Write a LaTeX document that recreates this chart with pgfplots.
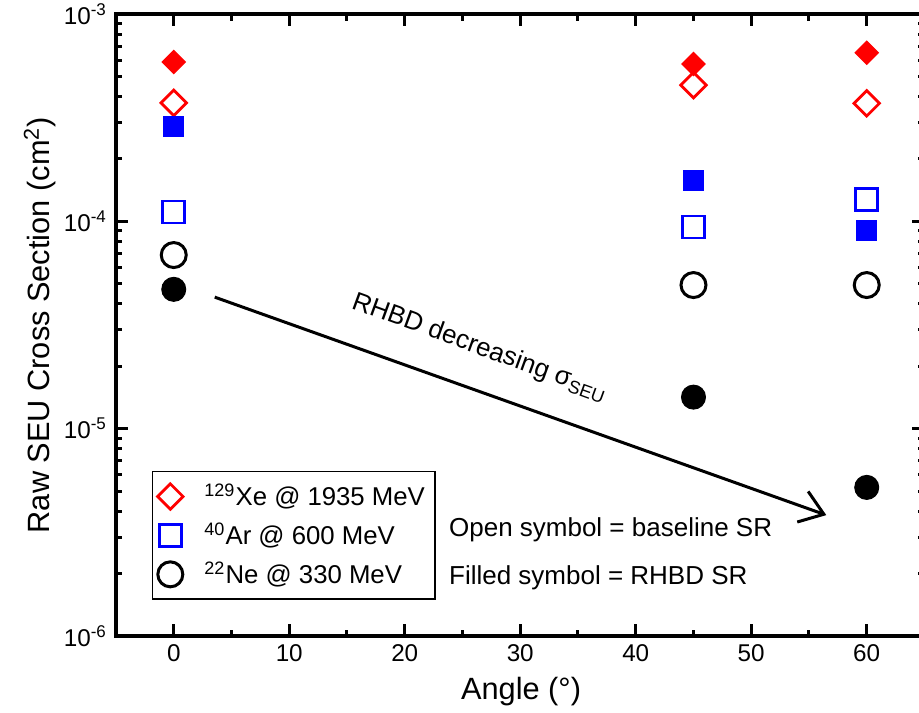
\documentclass[border=0pt]{standalone}
\usepackage{fontspec}
\setmainfont{Liberation Sans}
\usepackage{pgfplots}
\usepackage{pgfplotstable}
\pgfplotsset{compat=1.18}
\usetikzlibrary{arrows.meta}

% raw SEU cross sections (cm^2)
\pgfplotstableread{
angle xeo     xef     aro     arf     neo     nef
0     3.73e-4 5.87e-4 1.11e-4 2.86e-4 6.88e-5 4.70e-5
45    4.54e-4 5.74e-4 9.40e-5 1.58e-4 4.93e-5 1.42e-5
60    3.71e-4 6.51e-4 1.28e-4 9.08e-5 4.93e-5 5.21e-6
}\seu

\begin{document}
\begin{tikzpicture}
\begin{axis}[
  name=ax,
  scale only axis, width=323.4pt, height=248.8pt,
  xmin=-5, xmax=65,
  ymode=log, ymin=1e-6, ymax=1e-3,
  xtick={0,10,...,60}, minor x tick num=1,
  ytick={1e-6,1e-5,1e-4,1e-3},
  yticklabels={10\textsuperscript{-6},10\textsuperscript{-5},10\textsuperscript{-4},10\textsuperscript{-3}},
  minor ytick={2e-6,3e-6,4e-6,5e-6,6e-6,7e-6,8e-6,9e-6,
               2e-5,3e-5,4e-5,5e-5,6e-5,7e-5,8e-5,9e-5,
               2e-4,3e-4,4e-4,5e-4,6e-4,7e-4,8e-4,9e-4},
  /pgf/number format/assume math mode=true,
  tick align=inside, major tick length=4.8pt, minor tick length=2.6pt,
  every tick/.style={black, line width=1.2pt},
  axis line style={line width=1.5pt},
  ticklabel style={font=\fontsize{9.7}{11}\selectfont},
  xlabel={Angle (°)},
  ylabel={Raw SEU Cross Section (cm\textsuperscript{2})},
  label style={font=\fontsize{12.3}{14}\selectfont},
  xlabel style={at={(axis description cs:0.501,-0.09)}, anchor=center},
  ylabel style={at={(axis description cs:-0.094,0.5)}, anchor=center},
  legend style={at={(0.0445,0.265)}, anchor=north west, draw=black, line width=0.5pt,
    font=\fontsize{10.3}{12}\selectfont, cells={anchor=west}, row sep=1.4pt,
    inner xsep=2pt, inner ysep=2.8pt,
    /tikz/every odd column/.append style={column sep=6.5pt}},
  legend image code/.code={\draw[mark repeat=2,mark phase=2,#1] plot coordinates {(0cm,0cm)(0.28cm,0cm)(0.56cm,0cm)};},
  clip=false,
]
\addplot[only marks, red, mark=square, mark size=3.6pt, mark options={rotate=45, line width=1.1pt}]
  table[x=angle, y=xeo] {\seu};
\addlegendentry{\textsuperscript{129}Xe @ 1935 MeV}
\addplot[only marks, blue, mark=square, mark size=4.4pt, mark options={line width=1.1pt}]
  table[x=angle, y=aro] {\seu};
\addlegendentry{\textsuperscript{40}Ar @ 600 MeV}
\addplot[only marks, black, mark=o, mark size=5pt, mark options={line width=1.2pt}]
  table[x=angle, y=neo] {\seu};
\addlegendentry{\textsuperscript{22}Ne @ 330 MeV}
\addplot[only marks, red, forget plot, mark=square*, mark size=3.3pt, mark options={rotate=45, line width=0.4pt, fill=red}]
  table[x=angle, y=xef] {\seu};
\addplot[only marks, blue, forget plot, mark=square*, mark size=4.0pt, mark options={line width=0.4pt, fill=blue}]
  table[x=angle, y=arf] {\seu};
\addplot[only marks, black, forget plot, mark=*, mark size=4.8pt, mark options={line width=0.4pt, fill=black}]
  table[x=angle, y=nef] {\seu};

\draw[line width=1.2pt, -{Straight Barb[length=9pt, width=13pt, line width=1.2pt]}]
  (axis cs:3.55,4.31e-5) -- (axis cs:56.5,3.83e-6);
\node[rotate=-20, font=\fontsize{10.4}{12}\selectfont] at (axis cs:26.5,2.45e-5)
  {RHBD decreasing σ\textsubscript{SEU}};
\node[anchor=west, inner sep=0pt, font=\fontsize{10.4}{12}\selectfont] at (axis cs:23.8,3.24e-6)
  {Open symbol = baseline SR};
\node[anchor=west, inner sep=0pt, font=\fontsize{10.4}{12}\selectfont] at (axis cs:23.8,1.90e-6)
  {Filled symbol = RHBD SR};
\end{axis}
\pgfresetboundingbox
\path[use as bounding box] ([shift={(-46.4pt,-30.4pt)}]ax.south west)
  rectangle ([shift={(321.2pt,254.4pt)}]ax.south west);
\end{tikzpicture}
\end{document}
